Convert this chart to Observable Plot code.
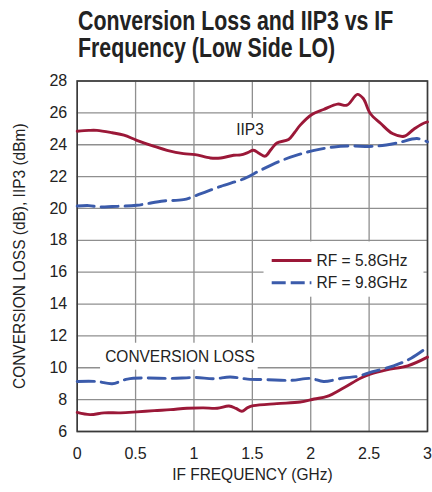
<!DOCTYPE html>
<html><head><meta charset="utf-8">
<script src="https://cdn.jsdelivr.net/npm/d3@7"></script>
<script src="https://cdn.jsdelivr.net/npm/@observablehq/plot@0.6"></script>
<style>
body{margin:0;background:#fff;}
#title{height:68px;box-sizing:border-box;padding-top:8px;padding-left:78px;font-family:"Liberation Sans",Arial,sans-serif;font-weight:bold;font-size:27px;line-height:27.4px;color:#222;white-space:nowrap;}
#title span{display:inline-block;transform:scaleX(0.79);transform-origin:left center;}
#chart svg{display:block;}
</style></head><body>
<div id="title"><span>Conversion Loss and IIP3 vs IF</span><br><span>Frequency (Low Side LO)</span></div>
<div id="chart"></div>
<script>
// IIP3, RF = 5.8GHz
const iip3X58 = [0, 0.1, 0.17, 0.3, 0.4, 0.51, 0.66, 0.77, 0.91, 1.01, 1.14, 1.23, 1.34, 1.4, 1.46, 1.51, 1.56, 1.61, 1.66, 1.71, 1.81, 1.86, 1.91, 2.01, 2.11, 2.23, 2.31, 2.4, 2.45, 2.51, 2.6, 2.7, 2.8, 2.88, 2.95, 3.0];
const iip3Y58 = [24.85, 24.9, 24.9, 24.75, 24.6, 24.28, 23.9, 23.65, 23.44, 23.38, 23.17, 23.17, 23.34, 23.36, 23.5, 23.65, 23.45, 23.28, 23.7, 24.11, 24.33, 24.75, 25.23, 25.9, 26.21, 26.55, 26.48, 27.16, 26.9, 25.96, 25.33, 24.7, 24.53, 24.96, 25.29, 25.43];
// IIP3, RF = 9.8GHz
const iip3X98 = [0, 0.1, 0.2, 0.3, 0.51, 0.74, 0.91, 1.06, 1.23, 1.43, 1.57, 1.74, 1.88, 2.03, 2.2, 2.34, 2.54, 2.74, 2.91, 3.0];
const iip3Y98 = [20.15, 20.18, 20.09, 20.12, 20.2, 20.47, 20.55, 20.93, 21.39, 21.87, 22.4, 22.98, 23.34, 23.65, 23.86, 23.92, 23.9, 24.11, 24.39, 24.18];
// Conversion loss, RF = 5.8GHz
const clX58 = [0, 0.11, 0.23, 0.37, 0.51, 0.66, 0.8, 0.94, 1.08, 1.2, 1.3, 1.36, 1.41, 1.46, 1.51, 1.71, 1.91, 2.03, 2.14, 2.28, 2.43, 2.51, 2.65, 2.83, 3.0];
const clY58 = [7.2, 7.06, 7.17, 7.17, 7.23, 7.31, 7.37, 7.46, 7.48, 7.46, 7.6, 7.45, 7.27, 7.5, 7.62, 7.75, 7.85, 8.04, 8.2, 8.73, 9.36, 9.6, 9.87, 10.12, 10.67];
// Conversion loss, RF = 9.8GHz
const clX98 = [0, 0.17, 0.3, 0.43, 0.6, 0.8, 1.01, 1.17, 1.31, 1.46, 1.63, 1.83, 2.0, 2.11, 2.28, 2.4, 2.51, 2.71, 2.86, 3.0];
const clY98 = [9.14, 9.14, 9.0, 9.29, 9.36, 9.33, 9.39, 9.31, 9.42, 9.29, 9.25, 9.21, 9.33, 9.14, 9.36, 9.46, 9.71, 10.12, 10.6, 11.29];

const seriesNames = ["RF = 5.8GHz", "RF = 9.8GHz"];
const seriesColors = ["#9b1838", "#3b5bab"];
const xTicks = [0, 0.5, 1, 1.5, 2, 2.5, 3];
const yTicks = [6, 8, 10, 12, 14, 16, 18, 20, 22, 24, 26, 28];
const xTitle = "IF FREQUENCY (GHz)";
const yTitle = "CONVERSION LOSS (dB), IIP3 (dBm)";
const curveLabels = ["IIP3", "CONVERSION LOSS"];

const zip = (xs, ys, s, g) => xs.map((x, i) => ({x, y: ys[i], s, g}));
const rows = [
  ...zip(iip3X58, iip3Y58, 0, "iip3-58"),
  ...zip(clX58, clY58, 0, "cl-58"),
  ...zip(iip3X98, iip3Y98, 1, "iip3-98"),
  ...zip(clX98, clY98, 1, "cl-98")
];
const dash = "17,7";

// annotation layout (label boxes / legend)
const labelBoxes = [
  {x1: 1.33, x2: 1.64, y1: 24.27, y2: 25.65},
  {x1: 0.2, x2: 1.55, y1: 9.85, y2: 11.54},
  {x1: 1.6, x2: 2.97, y1: 14.43, y2: 17.9}
];
const labelPos = [{x: 1.48, y: 24.96}, {x: 0.88, y: 10.73}];
const legendPos = [{x1: 1.67, x2: 2.01, tx: 2.05, y: 16.73}, {x1: 1.67, x2: 2.01, tx: 2.05, y: 15.34}];

const chart = Plot.plot({
  width: 432, height: 424,
  marginTop: 12.5, marginBottom: 61, marginLeft: 76.7, marginRight: 5,
  style: {fontFamily: "'Liberation Sans', Arial, sans-serif", fontSize: "16px", color: "#222", background: "#fff"},
  x: {domain: [0, 3]},
  y: {domain: [6, 28]},
  marks: [
    Plot.gridX(xTicks, {stroke: "#8f8f8f", strokeOpacity: 1, strokeWidth: 1.3}),
    Plot.gridY(yTicks, {stroke: "#8f8f8f", strokeOpacity: 1, strokeWidth: 1.3}),
    Plot.rect(labelBoxes, {x1: "x1", x2: "x2", y1: "y1", y2: "y2", fill: "white"}),
    Plot.frame({stroke: "#3a3a3a", strokeWidth: 1.6}),
    Plot.line(rows.filter(d => d.s === 0), {x: "x", y: "y", z: "g", stroke: seriesColors[0], strokeWidth: 2.9, curve: "catmull-rom"}),
    Plot.line(rows.filter(d => d.s === 1), {x: "x", y: "y", z: "g", stroke: seriesColors[1], strokeWidth: 2.9, strokeDasharray: dash, curve: "catmull-rom"}),
    Plot.ruleY([legendPos[0]], {y: "y", x1: "x1", x2: "x2", stroke: seriesColors[0], strokeWidth: 2.9}),
    Plot.ruleY([legendPos[1]], {y: "y", x1: "x1", x2: "x2", stroke: seriesColors[1], strokeWidth: 2.9, strokeDasharray: "14,5"}),
    Plot.text(legendPos, {x: "tx", y: "y", text: (d, i) => seriesNames[i], textAnchor: "start", fontSize: 16, fill: "#222"}),
    Plot.text(labelPos, {x: "x", y: "y", text: (d, i) => curveLabels[i], fontSize: 17, fill: "#222"}),
    Plot.axisX(xTicks, {tickSize: 0, tickPadding: 16, tickFormat: d => String(d), label: null, fontSize: 16, fill: "#222"}),
    Plot.axisY(yTicks, {tickSize: 0, tickPadding: 10, tickFormat: d => String(d), label: null, fontSize: 16, fill: "#222"}),
    Plot.text([xTitle], {frameAnchor: "bottom", dy: 48, fontSize: 17, fill: "#222"}),
    Plot.text([yTitle], {frameAnchor: "left", textAnchor: "middle", dx: -57.7, rotate: -90, fontSize: 17, fill: "#222"})
  ]
});
document.getElementById("chart").appendChild(chart);
// condense letter text slightly (reference uses a condensed face)
chart.querySelectorAll("text").forEach(t => {
  const s = t.textContent;
  if (/^[0-9.]+$/.test(s)) return;
  const k = s.startsWith("RF") ? 0.97 : 0.91;
  t.setAttribute("transform", (t.getAttribute("transform") || "") + ` scale(${k},1)`);
});
</script>
</body></html>
